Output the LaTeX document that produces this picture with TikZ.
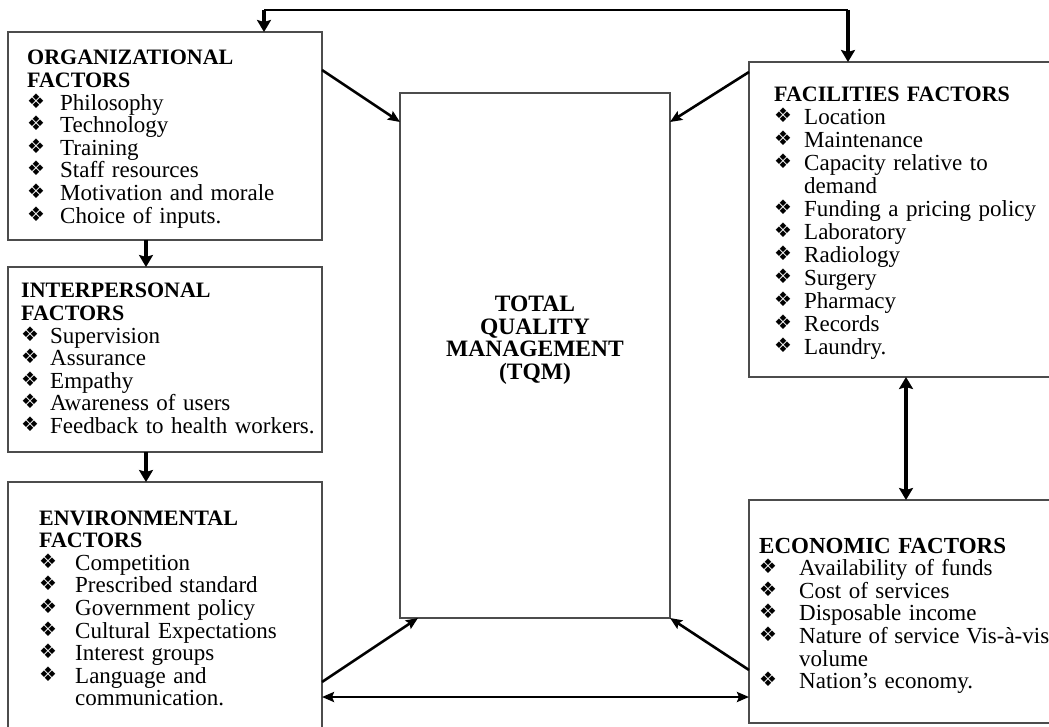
\documentclass[tikz,border=0pt]{standalone}
\usepackage{fontspec}
\setmainfont{Liberation Serif}[WordSpace=1.3]
\newfontfamily\symfont{DejaVu Sans}
\usepackage{tikz}
\usetikzlibrary{arrows.meta,positioning}

\newlength\bulw
\newcommand{\bul}{\makebox[\bulw][l]{\raisebox{2pt}{\symfont\fontsize{20}{20}\selectfont ❖}}}
\newcommand{\hd}[2][22]{{\fontsize{#1}{22.6}\selectfont\bfseries #2}}

\tikzset{factor/.style={rectangle,draw=black!70,line width=1.8pt,inner sep=0pt,outer sep=0pt},}
\tikzset{factor text/.style={anchor=base west,inner sep=0pt,font=\fontsize{23}{22.6}\selectfont},}
\tikzstyle{arrow} = [line width=2.6pt,->,>={Stealth[length=12pt,width=10pt,inset=2pt]}]
\tikzstyle{fat arrow} = [line width=4.5pt,->,>={Stealth[length=12pt,width=14pt,inset=2pt]}]

\begin{document}
\begin{tikzpicture}[x=1pt,y=-1pt]
  \useasboundingbox (0,0) rectangle (1049,727);
  \clip (0,0) rectangle (1049,727);

    % boxes
    \node[factor,minimum width=314pt,minimum height=208pt] (org) at (165,136) {};
    \node[factor,minimum width=314pt,minimum height=185pt] (inter) [below=27pt of org] {};
    \node[factor,minimum width=314pt,minimum height=246pt] (env) [below=30pt of inter] {};
    \node[factor,minimum width=270pt,minimum height=525pt] (tqm) at (535,355.5) {};
    \node[factor,minimum width=302pt,minimum height=315pt] (fac) at (900,219.5) {};
    \node[factor,minimum width=302pt,minimum height=223pt] (econ) at (900,611.5) {};

    % texts
    \node[factor text] (orgtext) at (27,65) {\parbox[t]{290pt}{\setlength\bulw{33pt}%
      \hd{ORGANIZATIONAL}\\ \hd{FACTORS}\\ \bul Philosophy\\ \bul Technology\\ \bul Training\\
      \bul Staff resources\\ \bul Motivation and morale\\ \bul Choice of inputs.}};
    \node[factor text] (intertext) at (21,298) {\parbox[t]{300pt}{\setlength\bulw{29pt}%
      \hd{INTERPERSONAL}\\ \hd{FACTORS}\\ \bul Supervision\\ \bul Assurance\\ \bul Empathy\\
      \bul Awareness of users\\ \bul Feedback to health workers.}};
    \node[factor text] (envtext) at (39,525) {\parbox[t]{280pt}{\setlength\bulw{36pt}%
      \hd{ENVIRONMENTAL}\\ \hd{FACTORS}\\ \bul Competition\\ \bul Prescribed standard\\
      \bul Government policy\\ \bul Cultural Expectations\\ \bul Interest groups\\
      \bul Language and\\ \hspace*{\bulw}communication.}};
    \node[factor text,font=\fontsize{23}{23}\selectfont] (factext) at (774,102) {\parbox[t]{270pt}{\setlength\bulw{30pt}%
      \hd{FACILITIES FACTORS}\\ \bul Location\\ \bul Maintenance\\ \bul Capacity relative to\\
      \hspace*{\bulw}demand\\ \bul Funding a pricing policy\\ \bul Laboratory\\ \bul Radiology\\
      \bul Surgery\\ \bul Pharmacy\\ \bul Records\\ \bul Laundry.}};
    \node[factor text] (econtext) at (759,553) {\parbox[t]{290pt}{\setlength\bulw{40pt}%
      \hd[23]{ECONOMIC FACTORS}\\ \bul Availability of funds\\ \bul Cost of services\\
      \bul Disposable income\\ \bul Nature of service Vis-à-vis\\ \hspace*{\bulw}volume\\
      \bul Nation’s economy.}};
    \node[align=center,inner sep=0pt,font=\fontsize{23.5}{22.5}\selectfont\bfseries] (tqmtext) at (535,340)
      {TOTAL\\QUALITY\\MANAGEMENT\\(TQM)};

    % links
    \coordinate (topL) at (264,10);
    \coordinate (topR) at (848,10);
    \coordinate (lowline) at ([yshift=31pt]env.south east);
    \draw[line width=1.4pt] (topL) -- (topR);
    \draw[fat arrow,line width=3.6pt] (topL) -- (topL |- org.north);
    \draw[fat arrow] (topR) -- (topR |- fac.north);
    \draw[fat arrow] ([xshift=-19pt]org.south) -- ([xshift=-19pt]inter.north);
    \draw[fat arrow] ([xshift=-19pt]inter.south) -- ([xshift=-19pt]env.north);
    \draw[fat arrow,<->] ([xshift=6pt]fac.south) -- ([xshift=6pt]econ.north);
    \draw[arrow] ([yshift=-38pt]org.north east) -- ([yshift=-29pt]tqm.north west);
    \draw[arrow] ([yshift=-10pt]fac.north west) -- ([yshift=-29pt]tqm.north east);
    \draw[arrow] ([yshift=46pt]env.south east) -- ([xshift=18pt]tqm.south west);
    \draw[arrow] ([yshift=53pt]econ.south west) -- (tqm.south east);
    \draw[arrow,<->] (lowline) -- (lowline -| econ.west);
\end{tikzpicture}
\end{document}
